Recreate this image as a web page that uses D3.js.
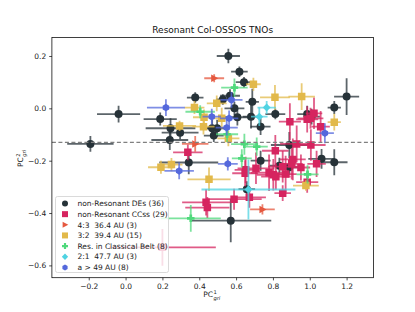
<!DOCTYPE html>
<html>
<head>
<meta charset="utf-8">
<script src="https://cdn.jsdelivr.net/npm/d3@7"></script>
<style>
  body { margin: 0; background: #fff; }
  svg { font-family: "DejaVu Sans", sans-serif; }
</style>
</head>
<body>
<div id="chart"></div>
<script>
// [x, y, xerr, yerr]
const desPts = [
  [0.558, 0.200, 0.063, 0.028], [0.618, 0.140, 0.045, 0.020], [0.643, 0.100, 0.045, 0.020],
  [0.378, 0.041, 0.045, 0.020], [0.528, 0.034, 0.036, 0.020], [0.567, 0.048, 0.054, 0.025],
  [0.688, 0.025, 0.036, 0.050], [1.200, 0.045, 0.068, 0.070], [1.133, 0.003, 0.036, 0.025],
  [-0.038, -0.022, 0.117, 0.032], [-0.191, -0.136, 0.126, 0.030], [0.188, -0.041, 0.090, 0.025],
  [0.244, -0.076, 0.135, 0.038], [0.296, -0.093, 0.100, 0.025], [0.240, -0.121, 0.100, 0.038],
  [0.591, 0.000, 0.054, 0.025], [0.607, -0.034, 0.072, 0.032], [0.681, -0.032, 0.045, 0.045],
  [0.733, -0.070, 0.054, 0.032], [0.813, -0.022, 0.054, 0.020], [0.470, -0.076, 0.054, 0.032],
  [0.497, -0.076, 0.063, 0.032], [0.479, -0.104, 0.054, 0.025], [0.889, -0.140, 0.100, 0.050],
  [0.986, -0.022, 0.054, 0.032], [1.010, -0.032, 0.045, 0.030], [1.064, -0.193, 0.072, 0.038],
  [1.133, -0.206, 0.072, 0.050], [0.733, -0.200, 0.054, 0.038], [0.835, -0.219, 0.054, 0.030],
  [0.889, -0.225, 0.054, 0.030], [0.343, -0.207, 0.160, 0.045], [0.571, -0.429, 0.220, 0.083],
  [0.658, -0.309, 0.045, 0.030]
];
const ccsPts = [
  [0.338, -0.168, 0.080, 0.030], [0.892, -0.051, 0.060, 0.070], [0.986, -0.042, 0.060, 0.050],
  [1.023, -0.019, 0.045, 0.060], [1.004, -0.038, 0.070, 0.040], [1.059, -0.070, 0.050, 0.060],
  [0.929, -0.136, 0.090, 0.070], [1.006, -0.140, 0.080, 0.060], [0.813, -0.162, 0.072, 0.060],
  [0.908, -0.195, 0.070, 0.080], [0.902, -0.212, 0.060, 0.060], [1.037, -0.212, 0.050, 0.050],
  [0.952, -0.226, 0.050, 0.050], [0.853, -0.223, 0.080, 0.060], [0.652, -0.235, 0.060, 0.050],
  [0.708, -0.229, 0.100, 0.060], [0.779, -0.246, 0.100, 0.070], [0.802, -0.254, 0.090, 0.060],
  [0.816, -0.261, 0.080, 0.050], [0.869, -0.251, 0.060, 0.070], [0.649, -0.248, 0.070, 0.050],
  [0.986, -0.282, 0.060, 0.040], [0.853, -0.324, 0.045, 0.030], [0.589, -0.347, 0.150, 0.040],
  [0.672, -0.340, 0.090, 0.040], [0.437, -0.359, 0.130, 0.050], [0.444, -0.379, 0.120, 0.040],
  [0.200, -0.531, 0.290, 0.070]
];
const res43Pts = [
  [0.481, 0.115, 0.054, 0.015], [0.378, -0.136, 0.072, 0.030], [0.743, -0.386, 0.067, 0.020]
];
const res32Pts = [
  [0.694, 0.092, 0.040, 0.025], [0.811, 0.042, 0.081, 0.047], [0.956, 0.045, 0.072, 0.051],
  [1.133, -0.053, 0.036, 0.032], [0.374, 0.003, 0.054, 0.025], [0.495, 0.019, 0.054, 0.030],
  [0.426, -0.034, 0.060, 0.030], [0.522, -0.038, 0.050, 0.040], [0.293, -0.067, 0.090, 0.020],
  [0.423, -0.070, 0.060, 0.030], [0.558, -0.115, 0.060, 0.030], [0.192, -0.225, 0.070, 0.025],
  [0.249, -0.215, 0.060, 0.025], [0.453, -0.271, 0.117, 0.045], [0.979, -0.295, 0.070, 0.020]
];
const classicalPts = [
  [0.591, 0.079, 0.072, 0.035], [0.405, -0.013, 0.080, 0.025], [0.551, -0.099, 0.060, 0.030],
  [0.645, -0.137, 0.072, 0.040], [0.712, -0.146, 0.060, 0.035], [0.631, -0.191, 0.054, 0.035],
  [0.988, -0.252, 0.060, 0.035], [0.354, -0.420, 0.163, 0.051]
];
const res21Pts = [
  [0.766, 0.003, 0.050, 0.025], [0.726, -0.032, 0.045, 0.035], [0.667, -0.310, 0.255, 0.115]
];
const farPts = [
  [0.219, 0.003, 0.103, 0.032], [0.575, 0.032, 0.060, 0.030], [0.468, -0.032, 0.050, 0.030],
  [0.562, -0.038, 0.050, 0.030], [0.549, -0.074, 0.060, 0.030], [1.082, -0.095, 0.049, 0.038],
  [0.555, -0.212, 0.054, 0.025], [0.291, -0.239, 0.080, 0.032]
];

const groupNames = ["non-Resonant DEs (36)", "non-Resonant CCss (29)", "4:3  36.4 AU (3)",
  "3:2  39.4 AU (15)", "Res. in Classical Belt (8)", "2:1  47.7 AU (3)", "a > 49 AU (8)"];
const groupColors = ["#263238", "#d6245f", "#e5583f", "#e2b94a", "#4fd97c", "#4fd3e2", "#5468dc"];
const groupMarkers = ["circle", "square", "right", "square", "plus", "diamond", "hexagon"];
const groupData = [desPts, ccsPts, res43Pts, res32Pts, classicalPts, res21Pts, farPts];

const xTicks = [-0.2, 0.0, 0.2, 0.4, 0.6, 0.8, 1.0, 1.2];
const yTicks = [-0.6, -0.4, -0.2, 0.0, 0.2];
const cutLine = -0.13;

const W = 415, H = 312;
const m = { left: 51.9, right: 373.5, top: 37.4, bottom: 277.7 };
const fs = 7.5;

const x = d3.scaleLinear().domain([-0.40, 1.346]).range([m.left, m.right]);
const y = d3.scaleLinear().domain([-0.647, 0.271]).range([m.bottom, m.top]);

const svg = d3.select("#chart").append("svg").attr("width", W).attr("height", H);
svg.append("rect").attr("width", W).attr("height", H).attr("fill", "#fff");

svg.append("clipPath").attr("id", "clip").append("rect")
  .attr("x", m.left).attr("y", m.top).attr("width", m.right - m.left).attr("height", m.bottom - m.top);

function markerPath(type, s) {
  const h = s / 2;
  if (type === "circle") return d3.symbol(d3.symbolCircle, Math.PI * h * h)();
  if (type === "square") return `M${-h},${-h}H${h}V${h}H${-h}Z`;
  if (type === "right") return `M${h * 1.1},0L${-h * 0.8},${-h}L${-h * 0.8},${h}Z`;
  if (type === "diamond") { const r = h * 1.05; return `M0,${-r}L${r},0L0,${r}L${-r},0Z`; }
  if (type === "plus") {
    const a = h, b = h * 0.36;
    return `M${-b},${-a}H${b}V${-b}H${a}V${b}H${b}V${a}H${-b}V${b}H${-a}V${-b}H${-b}Z`;
  }
  if (type === "hexagon") {
    const pts = d3.range(6).map(i => {
      const t = -Math.PI / 2 + i * Math.PI / 3;
      return [h * Math.cos(t), h * Math.sin(t)];
    });
    return "M" + pts.map(p => p.join(",")).join("L") + "Z";
  }
}

const plot = svg.append("g").attr("clip-path", "url(#clip)");

groupData.forEach((pts, gi) => {
  const g = plot.append("g");
  const col = groupColors[gi];
  const bars = g.append("g").attr("stroke", col).attr("stroke-width", 1.8).attr("stroke-opacity", 0.75);
  bars.selectAll("line.h").data(pts).enter().append("line")
    .attr("x1", d => x(d[0] - d[2])).attr("x2", d => x(d[0] + d[2]))
    .attr("y1", d => y(d[1])).attr("y2", d => y(d[1]));
  bars.selectAll("line.v").data(pts).enter().append("line")
    .attr("x1", d => x(d[0])).attr("x2", d => x(d[0]))
    .attr("y1", d => y(d[1] - d[3])).attr("y2", d => y(d[1] + d[3]));
  g.selectAll("path").data(pts).enter().append("path")
    .attr("d", markerPath(groupMarkers[gi], gi === 0 ? 8 : 7.5))
    .attr("transform", d => `translate(${x(d[0])},${y(d[1])})`)
    .attr("fill", col);
});

// dashed reference line
svg.append("line")
  .attr("x1", m.left).attr("x2", m.right)
  .attr("y1", y(cutLine)).attr("y2", y(cutLine))
  .attr("stroke", "#808080").attr("stroke-width", 1.2).attr("stroke-dasharray", "4,2.5");

// axes
const xAxis = svg.append("g").attr("transform", `translate(0,${m.bottom})`)
  .call(d3.axisBottom(x).tickValues(xTicks).tickFormat(d3.format(".1f")).tickSize(2.7).tickPadding(3));
const yAxis = svg.append("g").attr("transform", `translate(${m.left},0)`)
  .call(d3.axisLeft(y).tickValues(yTicks).tickFormat(d3.format(".1f")).tickSize(2.7).tickPadding(3));
[xAxis, yAxis].forEach(a => {
  a.select(".domain").remove();
  a.selectAll("text").attr("font-size", fs).attr("fill", "#222").attr("font-family", "DejaVu Sans");
  a.selectAll("line").attr("stroke", "#000").attr("stroke-width", 0.7);
});

svg.append("rect").attr("x", m.left).attr("y", m.top)
  .attr("width", m.right - m.left).attr("height", m.bottom - m.top)
  .attr("fill", "none").attr("stroke", "#000").attr("stroke-width", 0.75);

// title and labels
svg.append("text").attr("x", (m.left + m.right) / 2).attr("y", 33)
  .attr("text-anchor", "middle").attr("font-size", 9).attr("fill", "#111").text("Resonant Col-OSSOS TNOs");

function pcLabel(g, sup) {
  const base = g.append("text").attr("x", 0).attr("y", 0).attr("font-size", fs).attr("fill", "#222").text("PC");
  const w = base.node().getComputedTextLength();
  g.append("text").attr("x", w + 0.3).attr("y", -3.4).attr("font-size", 5.2).attr("fill", "#222").text(sup);
  g.append("text").attr("x", w + 0.3).attr("y", 2.8).attr("font-size", 5.2).attr("font-style", "italic")
    .attr("fill", "#222").text("gri");
  return w + 9;
}
const xlg = svg.append("g");
const xw = pcLabel(xlg, "1");
xlg.attr("transform", `translate(${(m.left + m.right) / 2 - xw / 2},297)`);
const ylg = svg.append("g");
const yw = pcLabel(ylg, "2");
ylg.attr("transform", `translate(23,${(m.top + m.bottom) / 2 + yw / 2}) rotate(-90)`);

// legend
const leg = svg.append("g");
leg.append("rect").attr("x", 55.5).attr("y", 196.5).attr("width", 113).attr("height", 76).attr("rx", 2)
  .attr("fill", "#fff").attr("fill-opacity", 0.8).attr("stroke", "#d0d0d0").attr("stroke-width", 0.8);
groupNames.forEach((name, i) => {
  const ry = 203.5 + i * 10.65;
  leg.append("path").attr("d", markerPath(groupMarkers[i], 6))
    .attr("transform", `translate(65,${ry})`).attr("fill", groupColors[i]);
  leg.append("text").attr("x", 77.5).attr("y", ry + 2.7).attr("font-size", fs)
    .attr("fill", "#222").style("white-space", "pre").text(name);
});
</script>
</body>
</html>
